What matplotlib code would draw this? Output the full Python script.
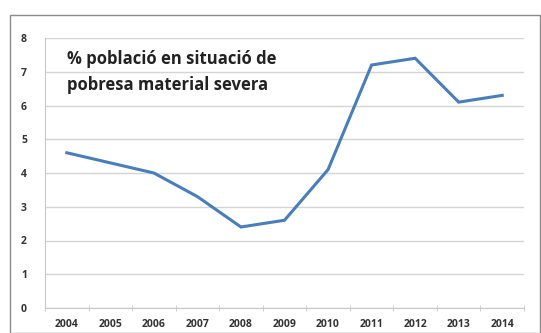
import matplotlib
matplotlib.use('Agg')
import matplotlib.pyplot as plt
from matplotlib.patches import Rectangle

years = ['2004', '2005', '2006', '2007', '2008', '2009', '2010', '2011', '2012', '2013', '2014']
values = [4.6, 4.3, 4.0, 3.3, 2.4, 2.6, 4.1, 7.2, 7.4, 6.1, 6.3]
y_ticks = [0, 1, 2, 3, 4, 5, 6, 7, 8]
title = '% població en situació de\npobresa material severa'

plt.rcParams['font.family'] = ['Open Sans', 'DejaVu Sans']

fig = plt.figure(figsize=(5.41, 3.33), dpi=100)
ax = fig.add_axes([45 / 541, 1 - 308 / 333, 479 / 541, 270 / 333])

# outer chart border
fig.patches.append(Rectangle((10 / 541, 0), 530 / 541, 1 - 15 / 333,
                             transform=fig.transFigure, fill=False,
                             edgecolor='#8c8c8c', linewidth=1.0))

x = list(range(len(years)))
ax.plot(x, values, color='#4a7ebb', linewidth=2.2, solid_joinstyle='miter')

ax.set_xlim(-0.5, len(years) - 0.5)
ax.set_ylim(0, 8)
ax.set_yticks(y_ticks)
ax.set_yticklabels([str(t) for t in y_ticks])
ax.set_xticks(x)
ax.set_xticklabels(years)
ax.set_xticks([i - 0.5 for i in range(len(years) + 1)], minor=True)

ax.grid(axis='y', color='#d4d4d4', linewidth=1.0)
ax.set_axisbelow(True)
for s in ['top', 'right']:
    ax.spines[s].set_visible(False)
ax.spines['left'].set_color('#c8c8c8')
ax.spines['bottom'].set_color('#c8c8c8')

ax.tick_params(axis='x', which='major', length=0, pad=8, labelsize=7.5,
               labelcolor='#333333')
ax.tick_params(axis='x', which='minor', length=4, color='#c8c8c8', direction='inout')
ax.tick_params(axis='y', length=0, pad=13, labelsize=7.5, labelcolor='#333333')
for lbl in ax.get_xticklabels() + ax.get_yticklabels():
    lbl.set_fontweight('bold')

ax.text(67 / 541, 1 - 72 / 333, title, transform=fig.transFigure,
        fontsize=12, fontweight='bold', color='#222222',
        va='center', ha='left', linespacing=1.5)

fig.savefig('out.png', dpi=100)
